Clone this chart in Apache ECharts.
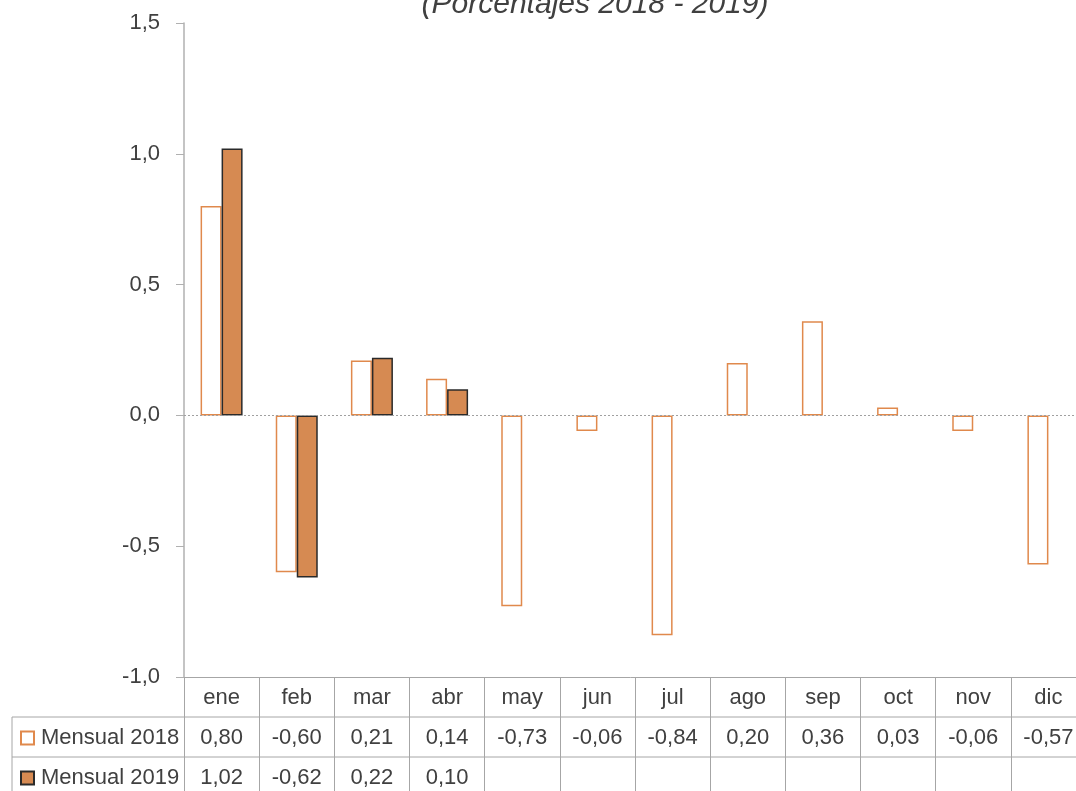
<!DOCTYPE html>
<html>
<head>
<meta charset="utf-8">
<script src="https://cdn.jsdelivr.net/npm/echarts@6/dist/echarts.min.js"></script>
<style>
html,body{margin:0;padding:0;background:#fff;}
#chart{width:1076px;height:791px;}
</style>
</head>
<body>
<div id="chart"></div>
<script>
const categories = ['ene','feb','mar','abr','may','jun','jul','ago','sep','oct','nov','dic'];
const mensual2018 = [0.80,-0.60,0.21,0.14,-0.73,-0.06,-0.84,0.20,0.36,0.03,-0.06,-0.57];
const mensual2019 = [1.02,-0.62,0.22,0.10,null,null,null,null,null,null,null,null];
const seriesNames = ['Mensual 2018','Mensual 2019'];
const yTicks = {min:-1.0, max:1.5, step:0.5};
const titleText = '(Porcentajes 2018 - 2019)';

const FONT = '"Liberation Sans Narrow", "Arial Narrow", "Liberation Sans", Arial, sans-serif';
const TXT = '#404040';
const GRID = '#a6a6a6';
const FS = 22;
const fmt2 = v => (v === null || v === undefined) ? '' : v.toFixed(2).replace('.', ',');

const chart = echarts.init(document.getElementById('chart'));
chart.setOption({
  backgroundColor:'#fff',
  animation:false,
  title:{
    text:titleText, left:590, textAlign:'center', top:-15,
    textStyle:{fontFamily:FONT, fontSize:30, fontStyle:'italic', fontWeight:'normal', color:TXT}
  },
  legend:[
    {
      left:20, top:727, padding:0, itemGap:0, itemWidth:13, itemHeight:13, icon:'rect', selectedMode:false,
      textStyle:{fontFamily:FONT, fontSize:FS, color:TXT, padding:[0,0,0,2]},
      data:[seriesNames[0]]
    },
    {
      left:20, top:767, padding:0, itemGap:0, itemWidth:13, itemHeight:13, icon:'rect', selectedMode:false,
      textStyle:{fontFamily:FONT, fontSize:FS, color:TXT, padding:[0,0,0,2]},
      data:[seriesNames[1]]
    }
  ],
  grid:{left:184, top:23, width:902, height:654, containLabel:false, outerBoundsMode:'none'},
  xAxis:{
    type:'category', data:categories, position:'bottom',
    axisLine:{onZero:false, lineStyle:{color:GRID, width:1}},
    axisTick:{show:true, alignWithLabel:false, length:114, lineStyle:{color:GRID, width:1}},
    axisLabel:{
      margin:1, interval:0,
      fontFamily:FONT, fontSize:FS, color:TXT, lineHeight:40,
      formatter:(val, idx) => val + '\n' + fmt2(mensual2018[idx]) + '\n' + fmt2(mensual2019[idx])
    },
    splitLine:{show:false}
  },
  yAxis:{
    type:'value', min:yTicks.min, max:yTicks.max, interval:yTicks.step,
    axisLine:{show:true, lineStyle:{color:'#b0b0b0', width:1.5}},
    axisTick:{show:true, inside:false, length:8, lineStyle:{color:'#b0b0b0', width:1}},
    axisLabel:{margin:24, fontFamily:FONT, fontSize:FS, color:TXT,
      formatter:v => v.toFixed(1).replace('.', ',')},
    splitLine:{show:false}
  },
  series:[
    {
      name:seriesNames[0], type:'bar', data:mensual2018, barWidth:21, barGap:'0%',
      itemStyle:{color:'#ffffff', borderColor:'#E0894C', borderWidth:1.5},
      markLine:{
        silent:true, symbol:['none','none'], label:{show:false},
        lineStyle:{color:'#a0a0a0', type:[2,2], width:1.2},
        data:[{yAxis:0}]
      }
    },
    {
      name:seriesNames[1], type:'bar', data:mensual2019, barWidth:21,
      itemStyle:{color:'#D68A52', borderColor:'#2a2a2a', borderWidth:1.5}
    }
  ],
  graphic:[
    {type:'line', shape:{x1:12, y1:717, x2:1076, y2:717}, style:{stroke:GRID, lineWidth:1}},
    {type:'line', shape:{x1:12, y1:757, x2:1076, y2:757}, style:{stroke:GRID, lineWidth:1}},
    {type:'line', shape:{x1:12, y1:717, x2:12, y2:791}, style:{stroke:GRID, lineWidth:1}}
  ]
});
</script>
</body>
</html>
